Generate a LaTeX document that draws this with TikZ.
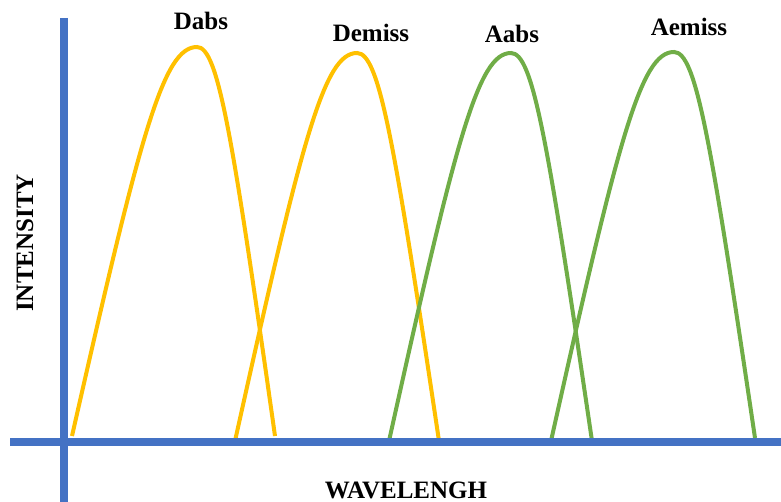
\documentclass[tikz,border=0pt]{standalone}
\usepackage{fontspec}
\setmainfont{Liberation Serif}
\definecolor{axisblue}{HTML}{4472C4}
\definecolor{specyellow}{HTML}{FFC000}
\definecolor{specgreen}{HTML}{70AD47}
% #1 style, #2 name, #3 Lx #4 Ly #5 Px #6 Py #7 Rx #8 Ry
\newcommand\specband[8]{%
  \pgfmathsetmacro\sbA{#5-0.45*(#5-#3)}%
  \pgfmathsetmacro\sbB{#6+0.22*(#4-#6)}%
  \pgfmathsetmacro\sbC{#5-0.27*(#5-#3)}%
  \pgfmathsetmacro\sbD{#5+0.27*(#7-#5)}%
  \pgfmathsetmacro\sbE{#5+0.45*(#7-#5)}%
  \pgfmathsetmacro\sbF{#6+0.22*(#8-#6)}%
  \coordinate (#2l) at (#3,#4);
  \coordinate (#2p) at (#5,#6);
  \coordinate (#2r) at (#7,#8);
  \draw[#1] (#2l) .. controls (\sbA,\sbB) and (\sbC,#6) .. (#2p)
               .. controls (\sbD,#6) and (\sbE,\sbF) .. (#2r);}
\begin{document}
\begin{tikzpicture}[x=1pt,y=-1pt,
  axisline/.style={draw=axisblue,line width=8pt},
  donor/.style={draw=specyellow,line width=4pt},
  acceptor/.style={draw=specgreen,line width=4pt},
  lbl/.style={font=\bfseries\fontsize{25}{25}\selectfont,inner sep=0pt}]
\useasboundingbox (0,0) rectangle (781,502);
% curves
\specband{donor}{dabs}{72}{436}{197}{47}{275}{436}
\specband{donor}{demiss}{235}{441}{357}{53}{439}{441}
\specband{acceptor}{aabs}{389}{441}{511}{53}{592}{441}
\specband{acceptor}{aemiss}{551}{441}{674}{52}{755}{438}
% axes
\coordinate (ytop) at (64,18);  \coordinate (ybot) at (64,502);
\coordinate (xleft) at (10,442); \coordinate (xright) at (781,442);
\draw[axisline] (ytop) -- (ybot);
\draw[axisline] (xleft) -- (xright);
% labels
\node[lbl] (ldabs) at (201,21) {Dabs};
\node[lbl] (ldemiss) at (371,33) {Demiss};
\node[lbl] (laabs) at (512,34) {Aabs};
\node[lbl] (laemiss) at (689,27) {Aemiss};
\node[lbl,rotate=90] (lint) at (25,243) {INTENSITY};
\node[lbl] (lwave) at (406,490) {WAVELENGH};
\end{tikzpicture}
\end{document}
